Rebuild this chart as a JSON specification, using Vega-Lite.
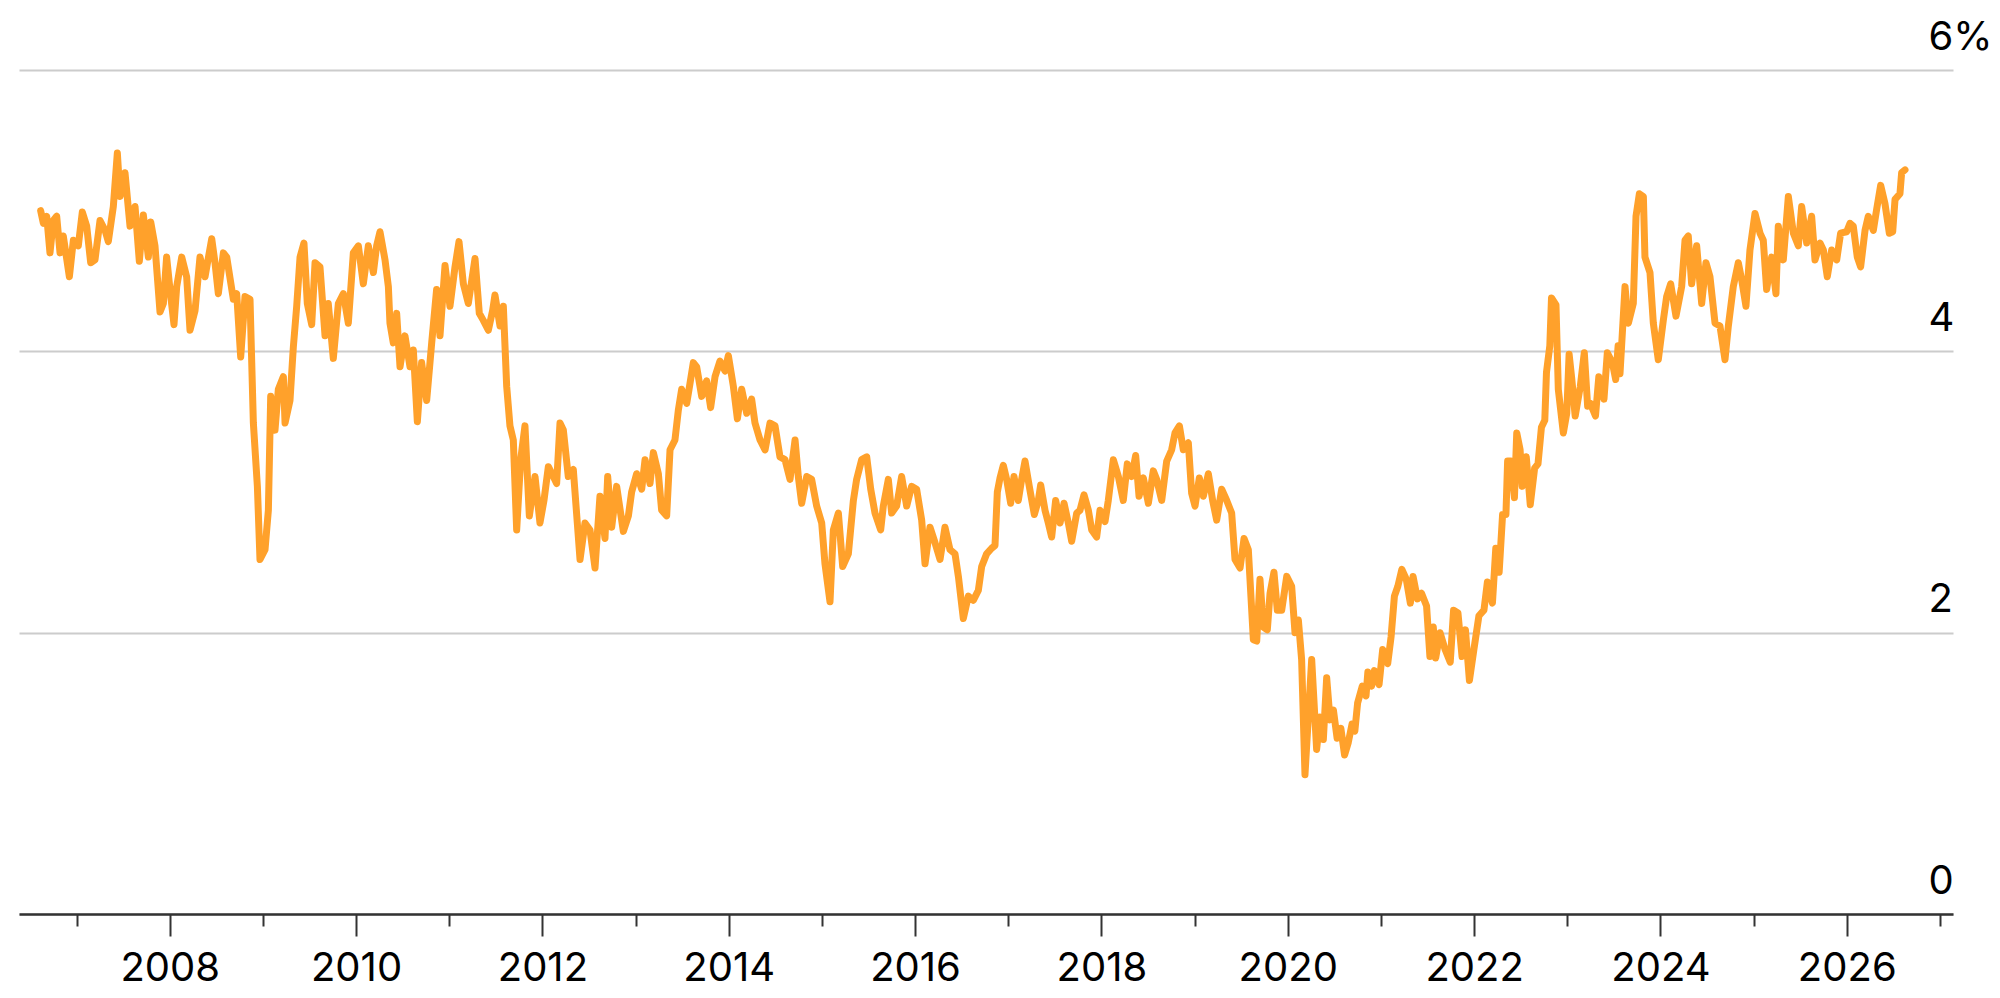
{
 "$schema": "https://vega.github.io/schema/vega-lite/v6.json",
 "width": 1934,
 "height": 844,
 "autosize": {"type": "none"},
 "padding": {"left": 19, "top": 70, "right": 47, "bottom": 84},
 "background": "white",
 "config": {"view": {"stroke": null}, "font": "Inter"},
 "data": {"values": [
{"year":2006.615,"yield":5.00},{"year":2006.644,"yield":4.91},{"year":2006.680,"yield":4.96},{"year":2006.715,"yield":4.70},{"year":2006.751,"yield":4.93},{"year":2006.787,"yield":4.96},{"year":2006.823,"yield":4.70},{"year":2006.858,"yield":4.82},{"year":2006.923,"yield":4.53},{"year":2006.966,"yield":4.79},
{"year":2007.019,"yield":4.75},{"year":2007.062,"yield":4.99},{"year":2007.109,"yield":4.89},{"year":2007.152,"yield":4.63},{"year":2007.198,"yield":4.65},{"year":2007.252,"yield":4.93},{"year":2007.306,"yield":4.86},{"year":2007.341,"yield":4.78},{"year":2007.395,"yield":5.03},{"year":2007.438,"yield":5.41},{"year":2007.467,"yield":5.10},{"year":2007.520,"yield":5.27},{"year":2007.574,"yield":4.89},{"year":2007.628,"yield":5.03},{"year":2007.674,"yield":4.64},{"year":2007.717,"yield":4.97},{"year":2007.771,"yield":4.67},{"year":2007.796,"yield":4.92},{"year":2007.842,"yield":4.75},{"year":2007.896,"yield":4.28},{"year":2007.932,"yield":4.34},{"year":2007.967,"yield":4.67},
{"year":2008.003,"yield":4.44},{"year":2008.046,"yield":4.19},{"year":2008.075,"yield":4.46},{"year":2008.129,"yield":4.67},{"year":2008.182,"yield":4.53},{"year":2008.218,"yield":4.15},{"year":2008.272,"yield":4.29},{"year":2008.325,"yield":4.67},{"year":2008.379,"yield":4.53},{"year":2008.451,"yield":4.80},{"year":2008.486,"yield":4.63},{"year":2008.522,"yield":4.41},{"year":2008.576,"yield":4.70},{"year":2008.612,"yield":4.67},{"year":2008.683,"yield":4.37},{"year":2008.719,"yield":4.41},{"year":2008.762,"yield":3.96},{"year":2008.808,"yield":4.39},{"year":2008.862,"yield":4.37},{"year":2008.898,"yield":3.49},{"year":2008.941,"yield":3.04},{"year":2008.969,"yield":2.52},
{"year":2009.023,"yield":2.59},{"year":2009.059,"yield":2.87},{"year":2009.084,"yield":3.68},{"year":2009.130,"yield":3.44},{"year":2009.166,"yield":3.73},{"year":2009.220,"yield":3.82},{"year":2009.238,"yield":3.49},{"year":2009.291,"yield":3.65},{"year":2009.327,"yield":4.03},{"year":2009.363,"yield":4.32},{"year":2009.399,"yield":4.67},{"year":2009.441,"yield":4.77},{"year":2009.477,"yield":4.34},{"year":2009.524,"yield":4.19},{"year":2009.560,"yield":4.63},{"year":2009.613,"yield":4.60},{"year":2009.667,"yield":4.11},{"year":2009.702,"yield":4.34},{"year":2009.756,"yield":3.95},{"year":2009.810,"yield":4.34},{"year":2009.864,"yield":4.41},{"year":2009.917,"yield":4.20},{"year":2009.971,"yield":4.70},
{"year":2010.025,"yield":4.75},{"year":2010.078,"yield":4.48},{"year":2010.132,"yield":4.75},{"year":2010.186,"yield":4.56},{"year":2010.221,"yield":4.75},{"year":2010.257,"yield":4.85},{"year":2010.311,"yield":4.65},{"year":2010.347,"yield":4.46},{"year":2010.364,"yield":4.20},{"year":2010.400,"yield":4.06},{"year":2010.436,"yield":4.27},{"year":2010.472,"yield":3.89},{"year":2010.525,"yield":4.11},{"year":2010.579,"yield":3.89},{"year":2010.615,"yield":4.01},{"year":2010.658,"yield":3.50},{"year":2010.704,"yield":3.92},{"year":2010.758,"yield":3.65},{"year":2010.812,"yield":4.06},{"year":2010.865,"yield":4.44},{"year":2010.901,"yield":4.11},{"year":2010.955,"yield":4.61},
{"year":2011.008,"yield":4.32},{"year":2011.062,"yield":4.60},{"year":2011.105,"yield":4.78},{"year":2011.152,"yield":4.48},{"year":2011.205,"yield":4.34},{"year":2011.277,"yield":4.66},{"year":2011.323,"yield":4.27},{"year":2011.366,"yield":4.22},{"year":2011.420,"yield":4.15},{"year":2011.466,"yield":4.29},{"year":2011.491,"yield":4.40},{"year":2011.545,"yield":4.18},{"year":2011.581,"yield":4.32},{"year":2011.617,"yield":3.75},{"year":2011.652,"yield":3.47},{"year":2011.688,"yield":3.37},{"year":2011.724,"yield":2.73},{"year":2011.767,"yield":3.23},{"year":2011.813,"yield":3.47},{"year":2011.860,"yield":2.83},{"year":2011.921,"yield":3.11},{"year":2011.974,"yield":2.78},
{"year":2012.017,"yield":2.94},{"year":2012.064,"yield":3.18},{"year":2012.117,"yield":3.11},{"year":2012.153,"yield":3.06},{"year":2012.189,"yield":3.49},{"year":2012.225,"yield":3.44},{"year":2012.278,"yield":3.11},{"year":2012.332,"yield":3.16},{"year":2012.404,"yield":2.52},{"year":2012.457,"yield":2.78},{"year":2012.511,"yield":2.73},{"year":2012.565,"yield":2.46},{"year":2012.618,"yield":2.97},{"year":2012.672,"yield":2.67},{"year":2012.701,"yield":3.11},{"year":2012.744,"yield":2.75},{"year":2012.797,"yield":3.04},{"year":2012.869,"yield":2.72},{"year":2012.923,"yield":2.83},{"year":2012.958,"yield":3.00},
{"year":2013.012,"yield":3.13},{"year":2013.066,"yield":3.02},{"year":2013.102,"yield":3.23},{"year":2013.155,"yield":3.06},{"year":2013.191,"yield":3.28},{"year":2013.245,"yield":3.13},{"year":2013.280,"yield":2.87},{"year":2013.334,"yield":2.83},{"year":2013.370,"yield":3.30},{"year":2013.423,"yield":3.37},{"year":2013.459,"yield":3.58},{"year":2013.495,"yield":3.73},{"year":2013.549,"yield":3.63},{"year":2013.584,"yield":3.77},{"year":2013.620,"yield":3.92},{"year":2013.656,"yield":3.89},{"year":2013.710,"yield":3.68},{"year":2013.763,"yield":3.79},{"year":2013.806,"yield":3.60},{"year":2013.853,"yield":3.82},{"year":2013.906,"yield":3.93},{"year":2013.960,"yield":3.86},{"year":2013.996,"yield":3.97},
{"year":2014.050,"yield":3.75},{"year":2014.093,"yield":3.52},{"year":2014.139,"yield":3.73},{"year":2014.193,"yield":3.56},{"year":2014.246,"yield":3.66},{"year":2014.282,"yield":3.49},{"year":2014.336,"yield":3.37},{"year":2014.390,"yield":3.30},{"year":2014.443,"yield":3.49},{"year":2014.497,"yield":3.47},{"year":2014.550,"yield":3.25},{"year":2014.604,"yield":3.23},{"year":2014.658,"yield":3.09},{"year":2014.712,"yield":3.37},{"year":2014.747,"yield":3.11},{"year":2014.783,"yield":2.92},{"year":2014.837,"yield":3.11},{"year":2014.890,"yield":3.09},{"year":2014.944,"yield":2.90},{"year":2014.998,"yield":2.78},
{"year":2015.033,"yield":2.49},{"year":2015.087,"yield":2.22},{"year":2015.123,"yield":2.73},{"year":2015.177,"yield":2.85},{"year":2015.223,"yield":2.47},{"year":2015.284,"yield":2.56},{"year":2015.338,"yield":2.94},{"year":2015.373,"yield":3.09},{"year":2015.427,"yield":3.23},{"year":2015.481,"yield":3.25},{"year":2015.524,"yield":3.02},{"year":2015.570,"yield":2.85},{"year":2015.631,"yield":2.73},{"year":2015.659,"yield":2.90},{"year":2015.713,"yield":3.09},{"year":2015.749,"yield":2.85},{"year":2015.802,"yield":2.90},{"year":2015.856,"yield":3.11},{"year":2015.910,"yield":2.90},{"year":2015.963,"yield":3.04},
{"year":2016.017,"yield":3.02},{"year":2016.071,"yield":2.80},{"year":2016.107,"yield":2.49},{"year":2016.160,"yield":2.75},{"year":2016.214,"yield":2.64},{"year":2016.268,"yield":2.52},{"year":2016.321,"yield":2.75},{"year":2016.375,"yield":2.59},{"year":2016.429,"yield":2.56},{"year":2016.465,"yield":2.40},{"year":2016.518,"yield":2.10},{"year":2016.572,"yield":2.26},{"year":2016.625,"yield":2.23},{"year":2016.679,"yield":2.30},{"year":2016.715,"yield":2.47},{"year":2016.768,"yield":2.56},{"year":2016.822,"yield":2.60},{"year":2016.858,"yield":2.62},{"year":2016.883,"yield":3.00},{"year":2016.912,"yield":3.10},{"year":2016.947,"yield":3.19},{"year":2016.983,"yield":3.09},
{"year":2017.026,"yield":2.92},{"year":2017.062,"yield":3.11},{"year":2017.108,"yield":2.94},{"year":2017.144,"yield":3.09},{"year":2017.180,"yield":3.22},{"year":2017.226,"yield":3.04},{"year":2017.280,"yield":2.84},{"year":2017.323,"yield":2.94},{"year":2017.348,"yield":3.05},{"year":2017.395,"yield":2.87},{"year":2017.430,"yield":2.78},{"year":2017.466,"yield":2.68},{"year":2017.509,"yield":2.94},{"year":2017.556,"yield":2.78},{"year":2017.599,"yield":2.92},{"year":2017.645,"yield":2.78},{"year":2017.681,"yield":2.65},{"year":2017.735,"yield":2.85},{"year":2017.770,"yield":2.87},{"year":2017.813,"yield":2.98},{"year":2017.860,"yield":2.87},{"year":2017.896,"yield":2.73},{"year":2017.949,"yield":2.68},{"year":2017.985,"yield":2.87},
{"year":2018.039,"yield":2.79},{"year":2018.074,"yield":2.94},{"year":2018.128,"yield":3.23},{"year":2018.182,"yield":3.11},{"year":2018.235,"yield":2.94},{"year":2018.278,"yield":3.20},{"year":2018.325,"yield":3.11},{"year":2018.368,"yield":3.26},{"year":2018.404,"yield":2.97},{"year":2018.450,"yield":3.10},{"year":2018.504,"yield":2.92},{"year":2018.557,"yield":3.15},{"year":2018.593,"yield":3.09},{"year":2018.647,"yield":2.94},{"year":2018.701,"yield":3.22},{"year":2018.754,"yield":3.30},{"year":2018.790,"yield":3.42},{"year":2018.837,"yield":3.47},{"year":2018.879,"yield":3.30},{"year":2018.933,"yield":3.35},{"year":2018.969,"yield":2.99},
{"year":2019.005,"yield":2.90},{"year":2019.051,"yield":3.10},{"year":2019.094,"yield":2.97},{"year":2019.148,"yield":3.13},{"year":2019.194,"yield":2.94},{"year":2019.237,"yield":2.80},{"year":2019.291,"yield":3.02},{"year":2019.345,"yield":2.94},{"year":2019.398,"yield":2.85},{"year":2019.434,"yield":2.52},{"year":2019.488,"yield":2.46},{"year":2019.531,"yield":2.67},{"year":2019.577,"yield":2.59},{"year":2019.631,"yield":1.95},{"year":2019.667,"yield":1.94},{"year":2019.702,"yield":2.38},{"year":2019.738,"yield":2.04},{"year":2019.781,"yield":2.02},{"year":2019.810,"yield":2.28},{"year":2019.852,"yield":2.43},{"year":2019.888,"yield":2.16},{"year":2019.935,"yield":2.16},{"year":2019.989,"yield":2.40},
{"year":2020.042,"yield":2.33},{"year":2020.078,"yield":2.00},{"year":2020.114,"yield":2.09},{"year":2020.149,"yield":1.81},{"year":2020.185,"yield":0.99},{"year":2020.221,"yield":1.40},{"year":2020.257,"yield":1.81},{"year":2020.310,"yield":1.17},{"year":2020.346,"yield":1.40},{"year":2020.382,"yield":1.24},{"year":2020.418,"yield":1.68},{"year":2020.454,"yield":1.38},{"year":2020.490,"yield":1.45},{"year":2020.530,"yield":1.25},{"year":2020.570,"yield":1.32},{"year":2020.610,"yield":1.13},{"year":2020.650,"yield":1.22},{"year":2020.690,"yield":1.35},{"year":2020.720,"yield":1.30},{"year":2020.750,"yield":1.50},{"year":2020.800,"yield":1.62},{"year":2020.840,"yield":1.55},{"year":2020.860,"yield":1.72},{"year":2020.900,"yield":1.62},{"year":2020.930,"yield":1.73},{"year":2020.980,"yield":1.63},
{"year":2021.019,"yield":1.88},{"year":2021.073,"yield":1.78},{"year":2021.109,"yield":1.97},{"year":2021.145,"yield":2.26},{"year":2021.182,"yield":2.33},{"year":2021.225,"yield":2.45},{"year":2021.272,"yield":2.38},{"year":2021.316,"yield":2.21},{"year":2021.345,"yield":2.40},{"year":2021.392,"yield":2.24},{"year":2021.436,"yield":2.28},{"year":2021.490,"yield":2.19},{"year":2021.526,"yield":1.83},{"year":2021.562,"yield":2.04},{"year":2021.588,"yield":1.82},{"year":2021.635,"yield":2.00},{"year":2021.689,"yield":1.88},{"year":2021.744,"yield":1.79},{"year":2021.780,"yield":2.16},{"year":2021.827,"yield":2.14},{"year":2021.871,"yield":1.83},{"year":2021.907,"yield":2.02},{"year":2021.950,"yield":1.66},{"year":2021.998,"yield":1.88},
{"year":2022.052,"yield":2.12},{"year":2022.106,"yield":2.16},{"year":2022.143,"yield":2.36},{"year":2022.197,"yield":2.21},{"year":2022.233,"yield":2.60},{"year":2022.269,"yield":2.43},{"year":2022.306,"yield":2.84},{"year":2022.342,"yield":2.84},{"year":2022.360,"yield":3.22},{"year":2022.396,"yield":3.22},{"year":2022.433,"yield":2.96},{"year":2022.458,"yield":3.42},{"year":2022.494,"yield":3.30},{"year":2022.516,"yield":3.04},{"year":2022.560,"yield":3.25},{"year":2022.603,"yield":2.91},{"year":2022.650,"yield":3.17},{"year":2022.686,"yield":3.20},{"year":2022.723,"yield":3.46},{"year":2022.759,"yield":3.51},{"year":2022.777,"yield":3.85},{"year":2022.813,"yield":4.04},{"year":2022.831,"yield":4.38},{"year":2022.879,"yield":4.33},{"year":2022.904,"yield":3.73},{"year":2022.958,"yield":3.42},{"year":2022.995,"yield":3.56},
{"year":2023.020,"yield":3.98},{"year":2023.049,"yield":3.80},{"year":2023.085,"yield":3.54},{"year":2023.140,"yield":3.75},{"year":2023.183,"yield":3.99},{"year":2023.219,"yield":3.61},{"year":2023.248,"yield":3.63},{"year":2023.303,"yield":3.54},{"year":2023.339,"yield":3.82},{"year":2023.394,"yield":3.66},{"year":2023.430,"yield":3.99},{"year":2023.484,"yield":3.92},{"year":2023.520,"yield":3.80},{"year":2023.546,"yield":4.04},{"year":2023.566,"yield":3.84},{"year":2023.620,"yield":4.46},{"year":2023.656,"yield":4.20},{"year":2023.709,"yield":4.34},{"year":2023.738,"yield":4.96},{"year":2023.774,"yield":5.12},{"year":2023.817,"yield":5.10},{"year":2023.834,"yield":4.67},{"year":2023.888,"yield":4.56},{"year":2023.924,"yield":4.20},{"year":2023.977,"yield":3.94},
{"year":2024.031,"yield":4.22},{"year":2024.067,"yield":4.39},{"year":2024.110,"yield":4.48},{"year":2024.167,"yield":4.25},{"year":2024.228,"yield":4.46},{"year":2024.264,"yield":4.79},{"year":2024.299,"yield":4.82},{"year":2024.335,"yield":4.48},{"year":2024.389,"yield":4.75},{"year":2024.443,"yield":4.34},{"year":2024.489,"yield":4.63},{"year":2024.532,"yield":4.53},{"year":2024.586,"yield":4.20},{"year":2024.639,"yield":4.18},{"year":2024.693,"yield":3.94},{"year":2024.729,"yield":4.18},{"year":2024.782,"yield":4.46},{"year":2024.836,"yield":4.63},{"year":2024.872,"yield":4.51},{"year":2024.918,"yield":4.32},{"year":2024.961,"yield":4.72},
{"year":2025.015,"yield":4.98},{"year":2025.069,"yield":4.84},{"year":2025.104,"yield":4.79},{"year":2025.140,"yield":4.44},{"year":2025.194,"yield":4.67},{"year":2025.240,"yield":4.41},{"year":2025.265,"yield":4.89},{"year":2025.319,"yield":4.65},{"year":2025.373,"yield":5.10},{"year":2025.427,"yield":4.84},{"year":2025.480,"yield":4.75},{"year":2025.516,"yield":5.03},{"year":2025.570,"yield":4.77},{"year":2025.623,"yield":4.96},{"year":2025.659,"yield":4.65},{"year":2025.713,"yield":4.77},{"year":2025.749,"yield":4.72},{"year":2025.791,"yield":4.53},{"year":2025.838,"yield":4.72},{"year":2025.892,"yield":4.65},{"year":2025.934,"yield":4.84},{"year":2025.999,"yield":4.85},
{"year":2026.035,"yield":4.91},{"year":2026.070,"yield":4.89},{"year":2026.113,"yield":4.67},{"year":2026.149,"yield":4.60},{"year":2026.196,"yield":4.86},{"year":2026.231,"yield":4.96},{"year":2026.285,"yield":4.86},{"year":2026.321,"yield":5.01},{"year":2026.364,"yield":5.18},{"year":2026.410,"yield":5.05},{"year":2026.457,"yield":4.84},{"year":2026.493,"yield":4.85},{"year":2026.518,"yield":5.08},{"year":2026.571,"yield":5.12},{"year":2026.589,"yield":5.27},{"year":2026.625,"yield":5.29}
 ]},
 "mark": {"type": "line", "color": "#ffa12b", "strokeWidth": 7, "strokeJoin": "round", "strokeCap": "round", "clip": true},
 "encoding": {
  "x": {
   "field": "year", "type": "quantitative",
   "scale": {"domain": [2006.3825, 2027.1403], "nice": false, "zero": false},
   "axis": {
    "values": [2007,2008,2009,2010,2011,2012,2013,2014,2015,2016,2017,2018,2019,2020,2021,2022,2023,2024,2025,2026,2027],
    "title": null, "grid": false,
    "domainColor": "#333333", "domainWidth": 2.5,
    "tickColor": "#333333", "tickWidth": 2,
    "tickSize": {"condition": {"test": "datum.value % 2 === 0", "value": 22}, "value": 12},
    "labelExpr": "datum.value % 2 === 0 ? format(datum.value, 'd') : ''",
    "labelFont": "Inter", "labelFontSize": 40, "labelColor": "#000000",
    "labelBaseline": "alphabetic", "labelPadding": 44,
    "labelFlush": false, "labelOverlap": false, "zindex": 1
   }
  },
  "y": {
   "field": "yield", "type": "quantitative",
   "scale": {"domain": [0, 6], "nice": false},
   "axis": {
    "orient": "right", "values": [0, 2, 4, 6], "title": null,
    "domain": false, "ticks": false, "tickSize": 0,
    "grid": true, "gridColor": "#cccccc", "gridWidth": 2,
    "labelAlign": "left", "labelPadding": -25, "labelBaseline": "alphabetic", "labelOffset": -21,
    "labelExpr": "datum.value === 6 ? '6%' : datum.label",
    "labelFont": "Inter", "labelFontSize": 40, "labelColor": "#000000",
    "labelOverlap": false, "labelFlush": false, "zindex": 0
   }
  }
 }
}
